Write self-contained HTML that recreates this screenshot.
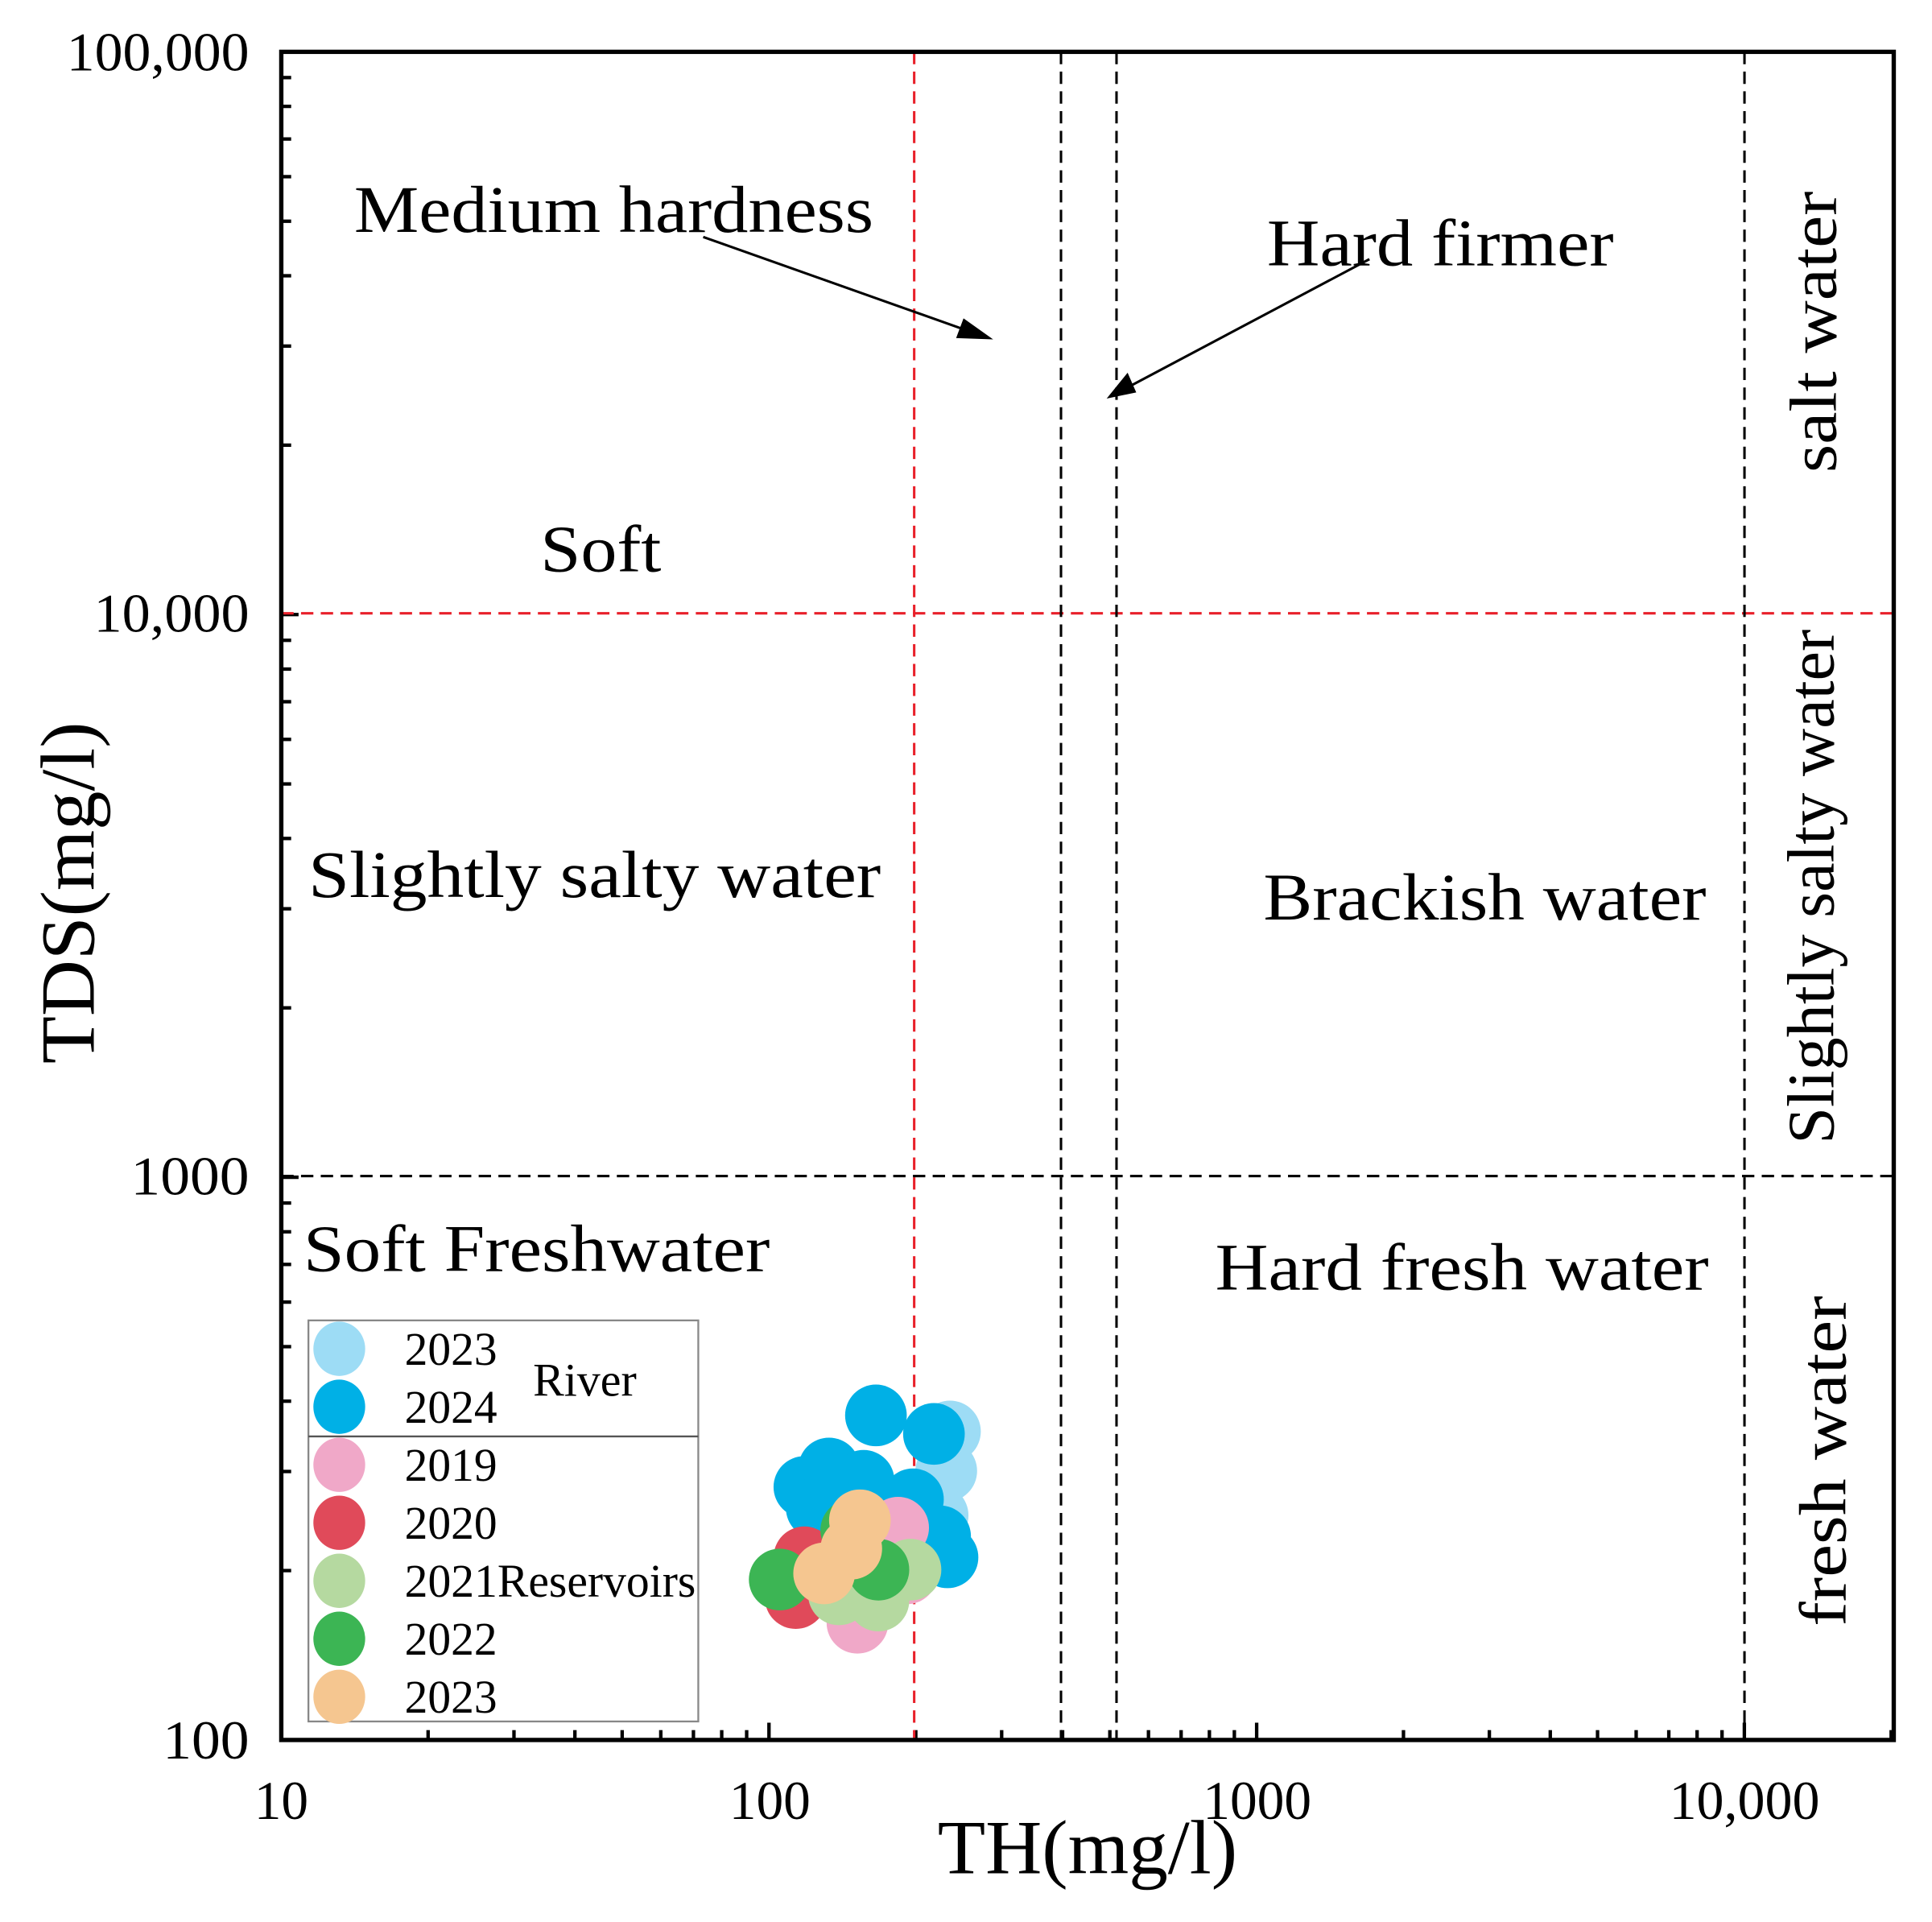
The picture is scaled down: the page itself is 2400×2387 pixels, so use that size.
<!DOCTYPE html>
<html><head><meta charset="utf-8"><style>
html,body{margin:0;padding:0;background:#fff;}
svg{display:block;}
text{font-family:"Liberation Serif",serif;fill:#000;}
</style></head><body>
<svg id="s" width="2400" height="2387" viewBox="0 0 1566 1557.5" xmlns="http://www.w3.org/2000/svg">
<rect width="1566" height="1558" fill="#fff"/>
<g id="ticks" stroke="#000" stroke-width="2.8"></g>
<g stroke-width="2" stroke-dasharray="10,6" fill="none">
<line x1="741" y1="42" x2="741" y2="1410" stroke="#e8202a"/>
<line x1="228" y1="497" x2="1535" y2="497" stroke="#e8202a"/>
<line x1="860" y1="42" x2="860" y2="1410" stroke="#000"/>
<line x1="905" y1="42" x2="905" y2="1410" stroke="#000"/>
<line x1="1414" y1="42" x2="1414" y2="1410" stroke="#000"/>
<line x1="228" y1="953" x2="1535" y2="953" stroke="#000"/>
</g>
<g>
<circle cx="770" cy="1160" r="25" fill="#9ddcf5"/>
<circle cx="767" cy="1192" r="25" fill="#9ddcf5"/>
<circle cx="760" cy="1228" r="25" fill="#9ddcf5"/>
<circle cx="672" cy="1190" r="25" fill="#00b0e6"/>
<circle cx="652" cy="1205" r="25" fill="#00b0e6"/>
<circle cx="662" cy="1222" r="25" fill="#00b0e6"/>
<circle cx="700" cy="1200" r="25" fill="#00b0e6"/>
<circle cx="710" cy="1147" r="25" fill="#00b0e6"/>
<circle cx="757" cy="1162" r="25" fill="#00b0e6"/>
<circle cx="740" cy="1215" r="25" fill="#00b0e6"/>
<circle cx="700" cy="1230" r="25" fill="#00b0e6"/>
<circle cx="762" cy="1245" r="25" fill="#00b0e6"/>
<circle cx="768" cy="1262" r="25" fill="#00b0e6"/>
<circle cx="728" cy="1238" r="25" fill="#f0a8c8"/>
<circle cx="695" cy="1315" r="25" fill="#f0a8c8"/>
<circle cx="735" cy="1275" r="25" fill="#f0a8c8"/>
<circle cx="645" cy="1295" r="25" fill="#e04a5a"/>
<circle cx="652" cy="1262" r="25" fill="#e04a5a"/>
<circle cx="680" cy="1292" r="25" fill="#b5d9a0"/>
<circle cx="712" cy="1297" r="25" fill="#b5d9a0"/>
<circle cx="738" cy="1272" r="25" fill="#b5d9a0"/>
<circle cx="632" cy="1280" r="25" fill="#3cb554"/>
<circle cx="712" cy="1272" r="25" fill="#3cb554"/>
<circle cx="690" cy="1258" r="25" fill="#3cb554"/>
<circle cx="690" cy="1240" r="25" fill="#3cb554"/>
<circle cx="697" cy="1232" r="25" fill="#f5c690"/>
<circle cx="690" cy="1255" r="25" fill="#f5c690"/>
<circle cx="668" cy="1275" r="25" fill="#f5c690"/>
</g>
<rect x="228" y="42" width="1307" height="1368" fill="none" stroke="#000" stroke-width="3.5"/>
<g stroke="#000" stroke-width="2" fill="#000">
<line x1="570" y1="192" x2="790" y2="270"/>
<polygon points="805,275 775,274 781,258" stroke="none"/>
<line x1="1110" y1="210" x2="912" y2="315"/>
<polygon points="897,323 914,302 921,318" stroke="none"/>
</g>
<g font-size="54">
<text x="287" y="188" textLength="421" lengthAdjust="spacingAndGlyphs">Medium hardness</text>
<text x="1027" y="215" textLength="281" lengthAdjust="spacingAndGlyphs">Hard firmer</text>
<text x="438" y="463" textLength="98" lengthAdjust="spacingAndGlyphs">Soft</text>
<text x="250" y="727" textLength="464" lengthAdjust="spacingAndGlyphs">Slightly salty water</text>
<text x="1024" y="745" textLength="359" lengthAdjust="spacingAndGlyphs">Brackish water</text>
<text x="246" y="1030" textLength="378" lengthAdjust="spacingAndGlyphs">Soft Freshwater</text>
<text x="985" y="1045" textLength="400" lengthAdjust="spacingAndGlyphs">Hard fresh water</text>
<text transform="translate(1488,383) rotate(-90)" textLength="228" lengthAdjust="spacingAndGlyphs">salt water</text>
<text transform="translate(1486,927) rotate(-90)" textLength="417" lengthAdjust="spacingAndGlyphs">Slightly salty water</text>
<text transform="translate(1496,1318) rotate(-90)" textLength="268" lengthAdjust="spacingAndGlyphs">fresh water</text>
</g>
<g font-size="44" text-anchor="end">
<text x="202" y="57" textLength="148" lengthAdjust="spacingAndGlyphs">100,000</text>
<text x="202" y="512" textLength="126" lengthAdjust="spacingAndGlyphs">10,000</text>
<text x="202" y="968" textLength="96" lengthAdjust="spacingAndGlyphs">1000</text>
<text x="202" y="1425" textLength="70" lengthAdjust="spacingAndGlyphs">100</text>
</g>
<g font-size="44" text-anchor="middle">
<text x="228" y="1474">10</text>
<text x="624" y="1474">100</text>
<text x="1019" y="1474">1000</text>
<text x="1414" y="1474" textLength="122" lengthAdjust="spacingAndGlyphs">10,000</text>
</g>
<text x="760" y="1518" font-size="62" textLength="243" lengthAdjust="spacingAndGlyphs">TH(mg/l)</text>
<text transform="translate(76,862) rotate(-90)" font-size="62" textLength="277" lengthAdjust="spacingAndGlyphs">TDS(mg/l)</text>
<rect x="250" y="1070" width="316" height="325" fill="#fff" stroke="#888" stroke-width="1.5"/>
<line x1="250" y1="1164" x2="566" y2="1164" stroke="#555" stroke-width="1.5"/>
<g>
<ellipse cx="275" cy="1093" rx="21" ry="22" fill="#9ddcf5"/>
<ellipse cx="275" cy="1140" rx="21" ry="22" fill="#00b0e6"/>
<ellipse cx="275" cy="1187" rx="21" ry="22" fill="#f0a8c8"/>
<ellipse cx="275" cy="1234" rx="21" ry="22" fill="#e04a5a"/>
<ellipse cx="275" cy="1281" rx="21" ry="22" fill="#b5d9a0"/>
<ellipse cx="275" cy="1328" rx="21" ry="22" fill="#3cb554"/>
<ellipse cx="275" cy="1375" rx="21" ry="22" fill="#f5c690"/>
</g>
<g font-size="38">
<text x="328" y="1106" textLength="75" lengthAdjust="spacingAndGlyphs">2023</text>
<text x="328" y="1153" textLength="75" lengthAdjust="spacingAndGlyphs">2024</text>
<text x="432" y="1131" textLength="84" lengthAdjust="spacingAndGlyphs">River</text>
<text x="328" y="1200" textLength="75" lengthAdjust="spacingAndGlyphs">2019</text>
<text x="328" y="1247" textLength="75" lengthAdjust="spacingAndGlyphs">2020</text>
<text x="328" y="1294" textLength="236" lengthAdjust="spacingAndGlyphs">2021Reservoirs</text>
<text x="328" y="1341" textLength="75" lengthAdjust="spacingAndGlyphs">2022</text>
<text x="328" y="1388" textLength="75" lengthAdjust="spacingAndGlyphs">2023</text>
</g>
</svg>
<script>
(function(){
var g=document.getElementById('ticks'),h='';
function X(v){return 228+(Math.log10(v)-1)*395.3;}
function Y(v){return 1410-(Math.log10(v)-2)*456;}
for(var d=10;d<=10000;d*=10){for(var k=1;k<10;k++){var v=d*k;var x=X(v);if(x>1535)break;var L=k==1?14:8;
h+='<line x1="'+x+'" y1="1410" x2="'+x+'" y2="'+(1410-L)+'"/>';}}
for(var d=100;d<=100000;d*=10){for(var k=1;k<10;k++){var v=d*k;if(v>100000)break;var y=Y(v);var L=k==1?14:8;
h+='<line x1="228" y1="'+y+'" x2="'+(228+L)+'" y2="'+y+'"/>';}}
g.innerHTML=h;
})();
</script>
</body></html>
